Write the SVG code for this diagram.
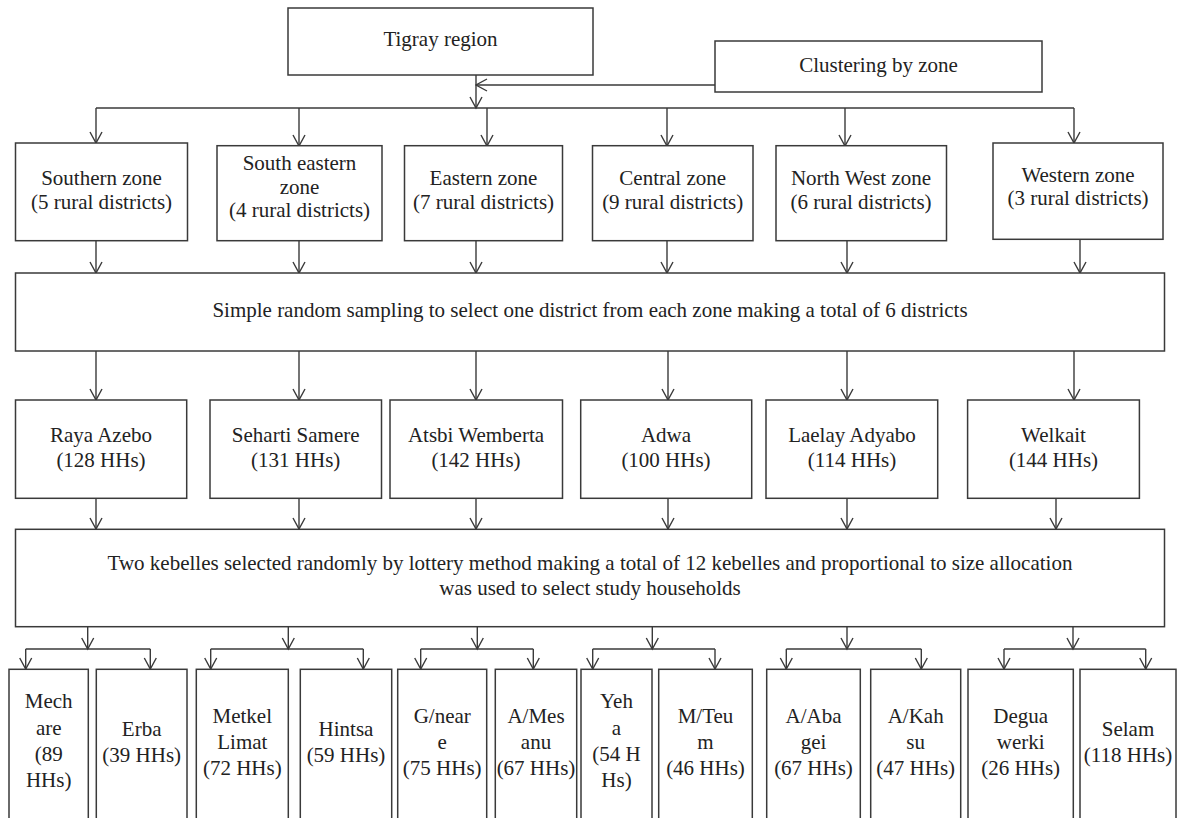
<svg xmlns="http://www.w3.org/2000/svg" width="1178" height="818" viewBox="0 0 1178 818">
<defs>
<style>
.box{fill:#fff;stroke:#3a3a3a;stroke-width:1.5}
.ln{fill:none;stroke:#3a3a3a;stroke-width:1.4}
.ar{fill:none;stroke:#3a3a3a;stroke-width:1.4;marker-end:url(#ah)}
text{font-family:"Liberation Serif","Times New Roman",serif;font-size:21px;fill:#222;text-anchor:middle}
</style>
<marker id="ah" viewBox="0 0 14 14" refX="12.5" refY="7" markerWidth="14" markerHeight="14" markerUnits="userSpaceOnUse" orient="auto">
<path d="M1.5,1 L12.5,7 L1.5,13" fill="none" stroke="#3a3a3a" stroke-width="1.4"/>
</marker>
</defs>
<rect width="1178" height="818" fill="#fff"/>

<g id="connectors">
<path class="ar" d="M715,85 H476"/>
<path class="ar" d="M476,75 V108"/>
<path class="ln" d="M96,108 H1074"/>
<path class="ar" d="M96,108 V143"/>
<path class="ar" d="M299,108 V146"/>
<path class="ar" d="M487,108 V146"/>
<path class="ar" d="M667,108 V146"/>
<path class="ar" d="M845,108 V146"/>
<path class="ar" d="M1074,108 V143"/>

<path class="ar" d="M96,241 V273"/>
<path class="ar" d="M299,241 V273"/>
<path class="ar" d="M476,241 V273"/>
<path class="ar" d="M667,241 V273"/>
<path class="ar" d="M847,241 V273"/>
<path class="ar" d="M1080,239 V273"/>

<path class="ar" d="M96,351 V400"/>
<path class="ar" d="M299,351 V400"/>
<path class="ar" d="M476,351 V400"/>
<path class="ar" d="M668,351 V400"/>
<path class="ar" d="M847,351 V400"/>
<path class="ar" d="M1074,351 V400"/>

<path class="ar" d="M96,498 V529"/>
<path class="ar" d="M299,498 V529"/>
<path class="ar" d="M476,498 V529"/>
<path class="ar" d="M668,498 V529"/>
<path class="ar" d="M847,498 V529"/>
<path class="ar" d="M1056,498 V529"/>

<path class="ar" d="M87.7,627 V649"/>
<path class="ln" d="M25.7,649 H150.3"/>
<path class="ar" d="M25.7,649 V669"/>
<path class="ar" d="M150.3,649 V669"/>

<path class="ar" d="M288.3,627 V649"/>
<path class="ln" d="M210.7,649 H363.3"/>
<path class="ar" d="M210.7,649 V669"/>
<path class="ar" d="M363.3,649 V669"/>

<path class="ar" d="M477.3,627 V649"/>
<path class="ln" d="M420.7,649 H533.3"/>
<path class="ar" d="M420.7,649 V669"/>
<path class="ar" d="M533.3,649 V669"/>

<path class="ar" d="M652.3,627 V649"/>
<path class="ln" d="M592.7,649 H715"/>
<path class="ar" d="M592.7,649 V669"/>
<path class="ar" d="M715,649 V669"/>

<path class="ar" d="M847,627 V649"/>
<path class="ln" d="M786.3,649 H921.3"/>
<path class="ar" d="M786.3,649 V669"/>
<path class="ar" d="M921.3,649 V669"/>

<path class="ar" d="M1073,627 V649"/>
<path class="ln" d="M1004,649 H1145.7"/>
<path class="ar" d="M1004,649 V669"/>
<path class="ar" d="M1145.7,649 V669"/>
</g>

<g id="tigray"><rect class="box" x="288" y="8" width="305" height="67"/><text x="440.5" y="46">Tigray region</text></g>
<g id="clustering"><rect class="box" x="715" y="41" width="327" height="51"/><text x="878.5" y="72">Clustering by zone</text></g>

<g id="southern"><rect class="box" x="15.5" y="143" width="172" height="97.7"/><text x="101.5" y="185">Southern zone</text><text x="101.5" y="209">(5 rural districts)</text></g>
<g id="southeastern"><rect class="box" x="217" y="145.7" width="165" height="95"/><text x="299.5" y="170">South eastern</text><text x="299.5" y="193.5">zone</text><text x="299.5" y="217">(4 rural districts)</text></g>
<g id="eastern"><rect class="box" x="404.5" y="145.7" width="158" height="95"/><text x="483.5" y="185">Eastern zone</text><text x="483.5" y="209">(7 rural districts)</text></g>
<g id="central"><rect class="box" x="592.5" y="145.7" width="160.5" height="95"/><text x="672.7" y="185">Central zone</text><text x="672.7" y="209">(9 rural districts)</text></g>
<g id="northwest"><rect class="box" x="776" y="145.7" width="170.5" height="95"/><text x="861" y="185">North West zone</text><text x="861" y="209">(6 rural districts)</text></g>
<g id="western"><rect class="box" x="993" y="143" width="170" height="96.3"/><text x="1078" y="182">Western zone</text><text x="1078" y="205">(3 rural districts)</text></g>

<g id="sampling"><rect class="box" x="15.5" y="273" width="1149" height="78"/><text x="590" y="317">Simple random sampling to select one district from each zone making a total of 6 districts</text></g>

<g id="raya"><rect class="box" x="15.5" y="400" width="171.2" height="98.3"/><text x="101" y="441.5">Raya Azebo</text><text x="101" y="466.5">(128 HHs)</text></g>
<g id="seharti"><rect class="box" x="210" y="400" width="171.5" height="98.3"/><text x="295.7" y="441.5">Seharti Samere</text><text x="295.7" y="466.5">(131 HHs)</text></g>
<g id="atsbi"><rect class="box" x="390" y="400" width="172.5" height="98.3"/><text x="476" y="441.5">Atsbi Wemberta</text><text x="476" y="466.5">(142 HHs)</text></g>
<g id="adwa"><rect class="box" x="580.7" y="400" width="171" height="98.3"/><text x="666" y="441.5">Adwa</text><text x="666" y="466.5">(100 HHs)</text></g>
<g id="laelay"><rect class="box" x="766" y="400" width="171.7" height="98.3"/><text x="852" y="441.5">Laelay Adyabo</text><text x="852" y="466.5">(114 HHs)</text></g>
<g id="welkait"><rect class="box" x="967.6" y="400" width="171.8" height="98.3"/><text x="1053.5" y="441.5">Welkait</text><text x="1053.5" y="466.5">(144 HHs)</text></g>

<g id="kebelle-selection"><rect class="box" x="15.5" y="529.3" width="1149" height="97.4"/><text x="590" y="570">Two kebelles selected randomly by lottery method making a total of 12 kebelles and proportional to size allocation</text><text x="590" y="595">was used to select study households</text></g>

<g id="mechare"><rect class="box" x="9" y="669.3" width="79.3" height="170"/><text x="48.7" y="708.3">Mech</text><text x="48.7" y="735">are</text><text x="48.7" y="760.5">(89</text><text x="48.7" y="786.7">HHs)</text></g>
<g id="erba"><rect class="box" x="96.3" y="669.3" width="90.7" height="170"/><text x="141.7" y="735.7">Erba</text><text x="141.7" y="761.7">(39 HHs)</text></g>
<g id="metkel"><rect class="box" x="196.3" y="669.3" width="92" height="170"/><text x="242.3" y="723">Metkel</text><text x="242.3" y="749">Limat</text><text x="242.3" y="775">(72 HHs)</text></g>
<g id="hintsa"><rect class="box" x="300.3" y="669.3" width="91.4" height="170"/><text x="346" y="735.7">Hintsa</text><text x="346" y="761.7">(59 HHs)</text></g>
<g id="gneare"><rect class="box" x="397.7" y="669.3" width="89" height="170"/><text x="442.2" y="722.5">G/near</text><text x="442.2" y="749">e</text><text x="442.2" y="775">(75 HHs)</text></g>
<g id="amesanu"><rect class="box" x="495.3" y="669.3" width="81.4" height="170"/><text x="536" y="722.5">A/Mes</text><text x="536" y="749">anu</text><text x="536" y="775">(67 HHs)</text></g>
<g id="yeha"><rect class="box" x="581" y="669.3" width="71" height="170"/><text x="616.5" y="708.3">Yeh</text><text x="616.5" y="735">a</text><text x="616.5" y="760.5">(54 H</text><text x="616.5" y="786.7">Hs)</text></g>
<g id="mteum"><rect class="box" x="658.7" y="669.3" width="93.6" height="170"/><text x="705.5" y="722.5">M/Teu</text><text x="705.5" y="749">m</text><text x="705.5" y="775">(46 HHs)</text></g>
<g id="aabagei"><rect class="box" x="766.7" y="669.3" width="93.6" height="170"/><text x="813.5" y="722.5">A/Aba</text><text x="813.5" y="749">gei</text><text x="813.5" y="775">(67 HHs)</text></g>
<g id="akahsu"><rect class="box" x="870.7" y="669.3" width="90" height="170"/><text x="915.7" y="722.5">A/Kah</text><text x="915.7" y="749">su</text><text x="915.7" y="775">(47 HHs)</text></g>
<g id="degua"><rect class="box" x="968" y="669.3" width="105.3" height="170"/><text x="1020.7" y="722.5">Degua</text><text x="1020.7" y="749">werki</text><text x="1020.7" y="775">(26 HHs)</text></g>
<g id="selam"><rect class="box" x="1080" y="669.3" width="96" height="170"/><text x="1128" y="735.7">Selam</text><text x="1128" y="761.7">(118 HHs)</text></g>
</svg>
